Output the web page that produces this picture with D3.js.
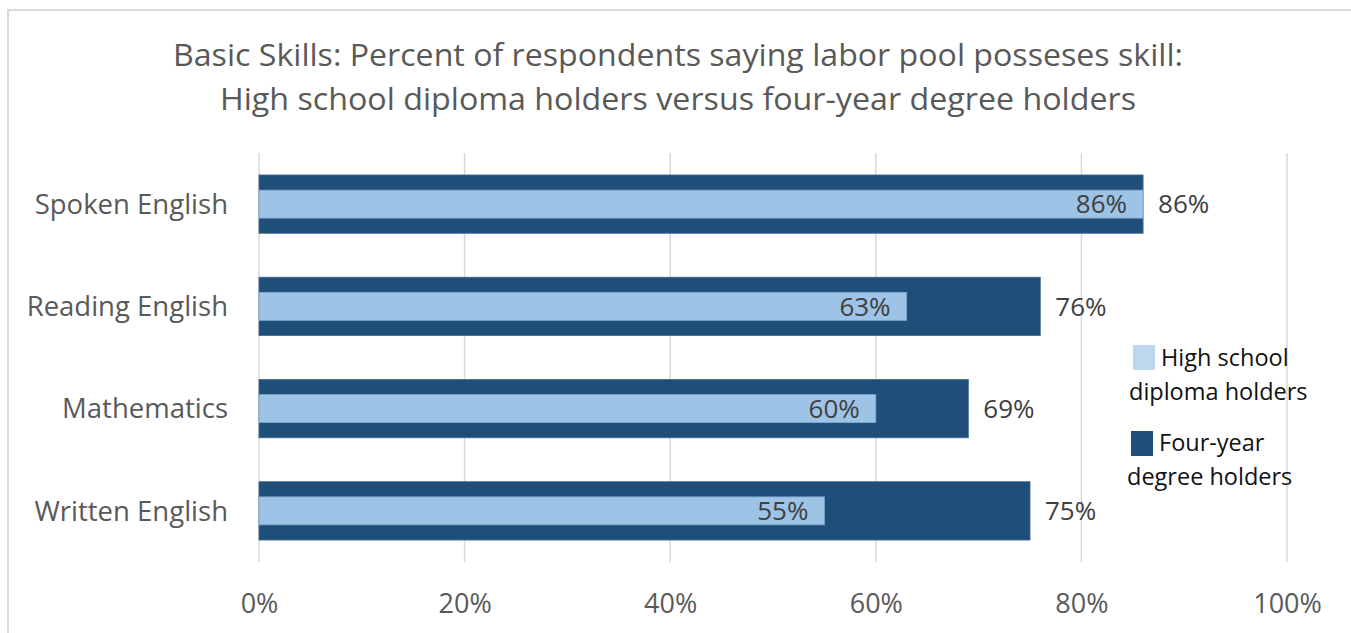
<!DOCTYPE html>
<html>
<head>
<meta charset="utf-8">
<script src="https://cdn.jsdelivr.net/npm/d3@7"></script>
<style>
  html, body { margin: 0; padding: 0; background: #fff; }
  svg { display: block; font-family: "Open Sans", "Noto Sans", sans-serif; }
</style>
</head>
<body>
<svg id="chart" width="1351" height="633"></svg>
<script>
// Skills surveyed, top to bottom
const categories = ["Spoken English", "Reading English", "Mathematics", "Written English"];
// Percent of respondents saying the labor pool possesses the skill
const highSchool = [86, 63, 60, 55];
const fourYear = [86, 76, 69, 75];
const xTicks = [0, 20, 40, 60, 80, 100];
const seriesNames = ["High school diploma holders", "Four-year degree holders"];
const titleLines = [
  "Basic Skills: Percent of respondents saying labor pool posseses skill:",
  "High school diploma holders versus four-year degree holders"
];

const W = 1351, H = 633;
const margin = { left: 259, right: 64, top: 153, bottom: 71 };
const darkColor = "#1f4e79";
const lightColor = "#9dc3e6";

const svg = d3.select("#chart");

// outer chart frame
svg.append("rect")
  .attr("x", 8).attr("y", 10)
  .attr("width", W + 20).attr("height", H + 20)
  .attr("fill", "none").attr("stroke", "#d9d9d9").attr("stroke-width", 2);

// title
const titleWidths = [1010, 916];
svg.append("g").selectAll("text")
  .data(titleLines)
  .join("text")
  .attr("x", 678)
  .attr("y", (d, i) => 66 + i * 44)
  .attr("text-anchor", "middle")
  .attr("font-size", 31)
  .attr("fill", "#595959")
  .attr("textLength", (d, i) => titleWidths[i])
  .attr("lengthAdjust", "spacingAndGlyphs")
  .text(d => d);

const x = d3.scaleLinear().domain([0, 100]).range([margin.left, W - margin.right]);
const y = d3.scaleBand().domain(categories)
  .range([margin.top, H - margin.bottom])
  .paddingInner(0.43).paddingOuter(0.215);

// vertical gridlines
svg.append("g").selectAll("line")
  .data(xTicks)
  .join("line")
  .attr("x1", d => x(d)).attr("x2", d => x(d))
  .attr("y1", margin.top).attr("y2", H - margin.bottom)
  .attr("stroke", "#d9d9d9").attr("stroke-width", 1.5);

// x axis tick labels
const xAxis = d3.axisBottom(x)
  .tickValues(xTicks)
  .tickFormat(d => d + "%")
  .tickSize(0)
  .tickPadding(0);
const gx = svg.append("g")
  .attr("transform", `translate(0,${H - margin.bottom})`)
  .call(xAxis);
gx.select(".domain").remove();
gx.selectAll("text")
  .attr("dy", null)
  .attr("y", 51)
  .attr("font-size", 27)
  .attr("font-family", "'Open Sans', sans-serif")
  .attr("fill", "#595959");

// category labels
const yAxis = d3.axisLeft(y).tickSize(0).tickPadding(31);
const gy = svg.append("g")
  .attr("transform", `translate(${margin.left},0)`)
  .call(yAxis);
gy.select(".domain").remove();
gy.selectAll("text")
  .attr("font-size", 27.5)
  .attr("font-family", "'Open Sans', sans-serif")
  .attr("fill", "#595959")
  .attr("dy", "0.35em");

const rows = categories.map((c, i) => ({ cat: c, hs: highSchool[i], fy: fourYear[i] }));
const innerH = 28;

// four-year degree bars (wide, behind)
svg.append("g").selectAll("rect")
  .data(rows)
  .join("rect")
  .attr("x", x(0))
  .attr("y", d => y(d.cat))
  .attr("width", d => x(d.fy) - x(0))
  .attr("height", y.bandwidth())
  .attr("fill", darkColor)
  .attr("stroke", "#3d6890").attr("stroke-width", 0.8);

// high school bars (narrow, in front)
svg.append("g").selectAll("rect")
  .data(rows)
  .join("rect")
  .attr("x", x(0))
  .attr("y", d => y(d.cat) + (y.bandwidth() - innerH) / 2)
  .attr("width", d => x(d.hs) - x(0))
  .attr("height", innerH)
  .attr("fill", lightColor)
  .attr("stroke", "#7fa6cc").attr("stroke-width", 0.8);

// value labels inside the high school bars
svg.append("g").selectAll("text")
  .data(rows)
  .join("text")
  .attr("x", d => x(d.hs) - 16)
  .attr("y", d => y(d.cat) + y.bandwidth() / 2)
  .attr("dy", "0.36em")
  .attr("text-anchor", "end")
  .attr("font-size", 26)
  .attr("fill", "#404040")
  .text(d => d.hs + "%");

// value labels after the four-year bars
svg.append("g").selectAll("text")
  .data(rows)
  .join("text")
  .attr("x", d => x(d.fy) + 15)
  .attr("y", d => y(d.cat) + y.bandwidth() / 2)
  .attr("dy", "0.36em")
  .attr("font-size", 26)
  .attr("fill", "#404040")
  .text(d => d.fy + "%");

// legend
const legendItems = [
  { name: seriesNames[0], color: "#bdd7ee", sx: 1133, sy: 345, lines: ["High school", "diploma holders"], lx: [1161, 1129], ly: [366, 400] },
  { name: seriesNames[1], color: darkColor, sx: 1131, sy: 431, lines: ["Four-year", "degree holders"], lx: [1159, 1127], ly: [451, 485] }
];
const lg = svg.append("g").selectAll("g").data(legendItems).join("g");
lg.append("rect")
  .attr("x", d => d.sx).attr("y", d => d.sy)
  .attr("width", 22).attr("height", 25)
  .attr("fill", d => d.color);
lg.each(function (d) {
  d3.select(this).selectAll("text")
    .data(d.lines)
    .join("text")
    .attr("x", (t, i) => d.lx[i])
    .attr("y", (t, i) => d.ly[i])
    .attr("font-size", 23.5)
    .attr("fill", "#111111")
    .text(t => t);
});
</script>
</body>
</html>
